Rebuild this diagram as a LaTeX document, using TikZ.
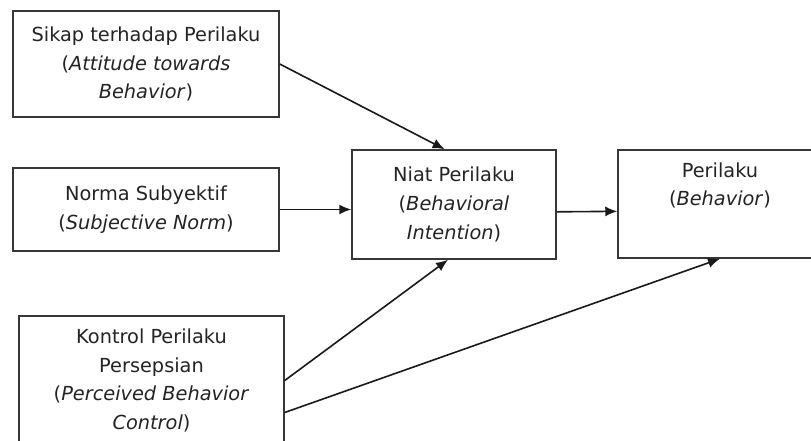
\documentclass[tikz,border=0pt]{standalone}
\usepackage{fontspec}
\setmainfont{DejaVu Sans}
\usetikzlibrary{arrows.meta}
\definecolor{boxline}{RGB}{55,55,55}
\definecolor{ink}{RGB}{35,35,35}
\tikzset{
  box/.style={draw=boxline, line width=1.1pt, text=ink, align=center, inner sep=0pt,
    font=\fontsize{14.5pt}{21.5pt}\selectfont},
  conn/.style={draw=black!90, line width=1.2pt, -{Latex[length=9pt,width=7.5pt]}}
}

\begin{document}
\begin{tikzpicture}[x=0.75pt,y=0.75pt,yscale=-1,xscale=1]
\useasboundingbox (0,0) rectangle (811,441);
\clip (0,0) rectangle (811,441);

% Boxes
\node [box, minimum width=199.5pt, minimum height=79.5pt] (att) at (146,64) {Sikap terhadap Perilaku\\(\textit{Attitude towards}\\\textit{Behavior})};
\node [box, minimum width=199.5pt, minimum height=62.25pt] (norm) at (146,209.5) {Norma Subyektif\\(\textit{Subjective Norm})};
\node [box, minimum width=198.75pt, minimum height=96.75pt] (ctrl) at (151.5,380.5) {Kontrol Perilaku\\Persepsian\\(\textit{Perceived Behavior}\\\textit{Control})};
\node [box, minimum width=153pt, minimum height=81.75pt] (niat) at (454,204.5) {Niat Perilaku\\(\textit{Behavioral}\\\textit{Intention})};
\node [box, minimum width=153pt, minimum height=81pt, text depth=30pt] (beh) at (720,204) {Perilaku\\(\textit{Behavior})};

%Straight Lines
\draw [conn] (att.east) -- ([xshift=-7pt]niat.north);
\draw [conn] (norm.east) -- (norm.east -| niat.west);
\draw [conn] ([yshift=5.5pt]niat.east) -- ([yshift=5.5pt]beh.west);
\draw [conn] (ctrl.east) -- ([xshift=-4.5pt]niat.south);
\draw [conn] ([yshift=24pt]ctrl.east) -- (beh.south);

\end{tikzpicture}
\end{document}
